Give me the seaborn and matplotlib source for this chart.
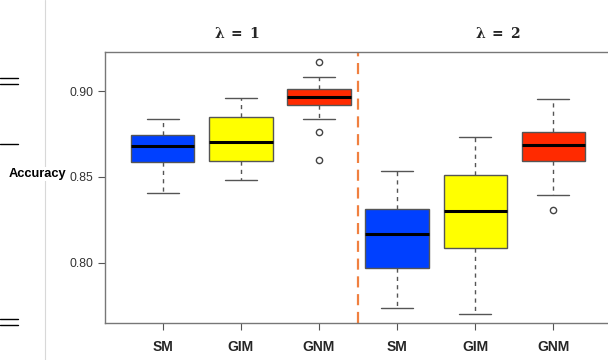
import seaborn as sns
import matplotlib.pyplot as plt
import pandas as pd
from matplotlib.lines import Line2D

# values (sorted samples whose quartiles/whiskers match the boxes)
methods = ["SM", "GIM", "GNM"]
lambdas = ["1", "2"]

sm_l1 = [0.8407, 0.8587, 0.8680, 0.8744, 0.8837]
gim_l1 = [0.8481, 0.8591, 0.8705, 0.8849, 0.8959]
gnm_l1 = [0.8597, 0.8760, 0.8837, 0.8920, 0.8940, 0.8955, 0.8965,
          0.8980, 0.8995, 0.9010, 0.9083, 0.9083, 0.9167]
sm_l2 = [0.7738, 0.7973, 0.8167, 0.8314, 0.8537]
gim_l2 = [0.7703, 0.8085, 0.8304, 0.8512, 0.8735]
gnm_l2 = [0.8308, 0.8395, 0.8595, 0.8640, 0.8686, 0.8720, 0.8762, 0.8850, 0.8955]

groups = [sm_l1, gim_l1, gnm_l1, sm_l2, gim_l2, gnm_l2]
group_names = [f"{m}_{l}" for l in lambdas for m in methods]
box_colors = ["#0040ff", "#ffff00", "#ff2a00", "#0040ff", "#ffff00", "#ff2a00"]
yticks = [0.80, 0.85, 0.90]

rows = []
for name, vals in zip(group_names, groups):
    for v in vals:
        rows.append({"group": name, "acc": v})
df = pd.DataFrame(rows)

sns.set_style("white")
plt.rcParams["font.family"] = ["Liberation Sans", "DejaVu Sans"]
plt.rcParams["mathtext.fontset"] = "dejavuserif"

fig = plt.figure(figsize=(6.08, 3.6), dpi=100)
ax = fig.add_axes([0.1727, 0.1028, 0.8323, 0.7528])

sns.boxplot(data=df, x="group", y="acc", hue="group", order=group_names,
            palette=dict(zip(group_names, box_colors)), legend=False, saturation=1,
            width=0.81, linewidth=1.0, linecolor="#555555", ax=ax,
            medianprops=dict(color="black", linewidth=2.2),
            flierprops=dict(marker="o", markerfacecolor="none",
                            markeredgecolor="#444444", markersize=4.5))
# dashed whiskers (vertical two-point lines), R style
for ln in ax.lines:
    xs = ln.get_xdata()
    if len(xs) == 2 and xs[0] == xs[1]:
        ln.set_linestyle((0, (3, 3)))
        ln.set_color("#555555")

ax.set_xticks(range(6))
ax.set_xticklabels(methods * 2, fontweight="bold", fontsize=10)

ax.axvline(2.5, color="#f08040", linestyle=(0, (5, 3)), linewidth=1.6)

ax.set_xlim(-0.74, 5.74)
ax.set_ylim(0.7651, 0.9227)
ax.set_yticks(yticks)
ax.set_yticklabels([f"{t:.2f}" for t in yticks], fontsize=8.7, color="#333333")
ax.set_xlabel("")
ax.set_ylabel("")
ax.tick_params(axis="both", direction="out", length=5, width=0.8, color="#555555",
               left=True, bottom=True)
ax.tick_params(axis="x", pad=7)
for side in ["left", "top", "bottom", "right"]:
    ax.spines[side].set_color("#777777")
    ax.spines[side].set_linewidth(1.0)

ax.text(0.95, 1.07, r"$\boldsymbol{\lambda}\ \mathbf{=\ 1}$", transform=ax.get_xaxis_transform(),
        ha="center", va="center", fontsize=10)
ax.text(4.29, 1.07, r"$\boldsymbol{\lambda}\ \mathbf{=\ 2}$", transform=ax.get_xaxis_transform(),
        ha="center", va="center", fontsize=10)

fig.text(37 / 608, 1 - 174 / 360, "Accuracy", ha="center", va="center",
         fontweight="bold", fontsize=9.3, color="black",
         bbox=dict(facecolor="white", edgecolor="none", pad=0.5))

# page fragments on the left edge
fig.add_artist(Line2D([45 / 608, 45 / 608], [0, 1], color="#d8d8d8", linewidth=0.8, zorder=0))
for yy in [78, 84, 144, 319, 325]:
    fig.add_artist(Line2D([0, 18 / 608], [1 - yy / 360] * 2, color="black", linewidth=1.0))

fig.savefig("out.png", dpi=100)
